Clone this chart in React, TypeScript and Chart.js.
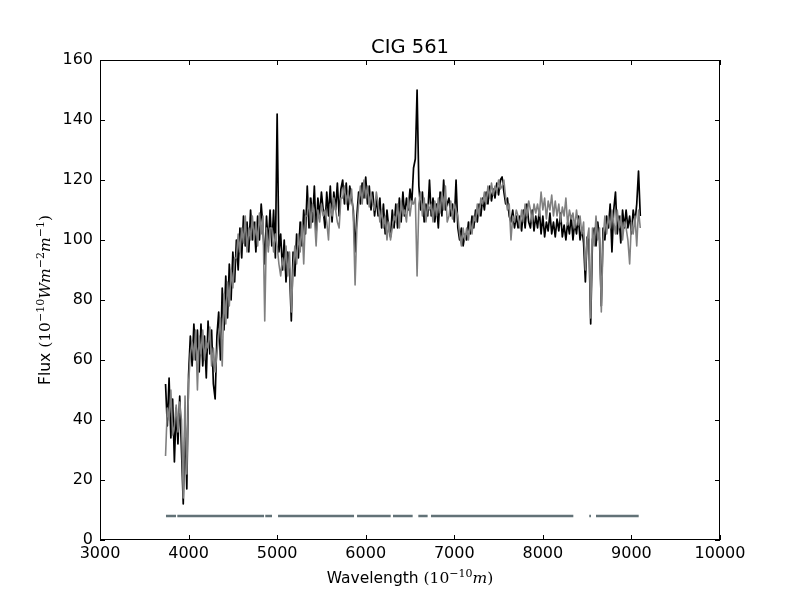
import { useEffect, useRef } from 'react';
import { Chart, registerables } from 'chart.js';
import type { Plugin } from 'chart.js';

Chart.register(...registerables);

// Wavelength samples (Angstrom), ten per row, shared by both spectra
const waves = [
  3740, 3760, 3780, 3800, 3820, 3840, 3860, 3880, 3900, 3920,
  3940, 3960, 3980, 4000, 4020, 4040, 4060, 4080, 4100, 4120,
  4140, 4160, 4180, 4200, 4220, 4240, 4260, 4280, 4300, 4320,
  4340, 4360, 4380, 4400, 4420, 4440, 4460, 4480, 4500, 4520,
  4540, 4560, 4580, 4600, 4620, 4640, 4660, 4680, 4700, 4720,
  4740, 4760, 4780, 4800, 4820, 4840, 4860, 4880, 4900, 4920,
  4940, 4960, 4980, 5000, 5020, 5040, 5060, 5080, 5100, 5120,
  5140, 5160, 5180, 5200, 5220, 5240, 5260, 5280, 5300, 5320,
  5340, 5360, 5380, 5400, 5420, 5440, 5460, 5480, 5500, 5520,
  5540, 5560, 5580, 5600, 5620, 5640, 5660, 5680, 5700, 5720,
  5740, 5760, 5780, 5800, 5820, 5840, 5860, 5880, 5900, 5920,
  5940, 5960, 5980, 6000, 6020, 6040, 6060, 6080, 6100, 6120,
  6140, 6160, 6180, 6200, 6220, 6240, 6260, 6280, 6300, 6320,
  6340, 6360, 6380, 6400, 6420, 6440, 6460, 6480, 6500, 6520,
  6540, 6560, 6580, 6600, 6620, 6640, 6660, 6680, 6700, 6720,
  6740, 6760, 6780, 6800, 6820, 6840, 6860, 6880, 6900, 6920,
  6940, 6960, 6980, 7000, 7020, 7040, 7060, 7080, 7100, 7120,
  7140, 7160, 7180, 7200, 7220, 7240, 7260, 7280, 7300, 7320,
  7340, 7360, 7380, 7400, 7420, 7440, 7460, 7480, 7500, 7520,
  7540, 7560, 7580, 7600, 7620, 7640, 7660, 7680, 7700, 7720,
  7740, 7760, 7780, 7800, 7820, 7840, 7860, 7880, 7900, 7920,
  7940, 7960, 7980, 8000, 8020, 8040, 8060, 8080, 8100, 8120,
  8140, 8160, 8180, 8200, 8220, 8240, 8260, 8280, 8300, 8320,
  8340, 8360, 8380, 8400, 8420, 8440, 8460, 8480, 8500, 8520,
  8540, 8560, 8580, 8600, 8620, 8640, 8660, 8680, 8700, 8720,
  8740, 8760, 8780, 8800, 8820, 8840, 8860, 8880, 8900, 8920,
  8940, 8960, 8980, 9000, 9020, 9040, 9060, 9080, 9100,
];

// Observed flux (black)
const observed = [
  52, 38, 54, 34, 47, 26, 44, 32, 48, 30,
  12, 40, 17, 55, 68, 58, 72, 60, 70, 56,
  72, 58, 68, 54, 73, 62, 70, 52, 47, 68,
  76, 60, 84, 70, 88, 74, 92, 80, 96, 86,
  100, 90, 104, 94, 108, 98, 106, 96, 110, 100,
  106, 96, 108, 100, 112, 104, 92, 108, 98, 110,
  98, 110, 94, 142, 96, 102, 90, 100, 86, 96,
  90, 73, 96, 88, 102, 94, 106, 98, 110, 102,
  118, 104, 114, 106, 118, 102, 114, 108, 116, 110,
  104, 116, 108, 118, 106, 116, 110, 119, 108, 117,
  120, 112, 119, 110, 118, 114, 110, 96, 108, 116,
  112, 119, 114, 121, 112, 118, 110, 116, 108, 114,
  108, 114, 104, 112, 102, 110, 104, 101, 110, 104,
  112, 104, 114, 106, 116, 108, 114, 110, 117, 112,
  124, 127, 150, 118, 110, 116, 106, 112, 108, 120,
  108, 114, 106, 112, 104, 116, 108, 120, 110, 112,
  114, 108, 112, 106, 120, 104, 100, 104, 98, 102,
  100, 106, 102, 108, 104, 110, 106, 112, 108, 114,
  110, 116, 112, 118, 113, 117, 114, 119, 115, 120,
  121, 116, 112, 114, 108, 106, 110, 104, 108, 104,
  108, 103, 110, 104, 112, 106, 104, 110, 103, 108,
  104, 110, 102, 108, 101, 106, 103, 109, 102, 106,
  101, 107, 103, 109, 101, 105, 100, 106, 102, 108,
  100, 106, 102, 108, 100, 104, 99, 86, 101, 100,
  72, 100, 104, 98, 106, 100, 78, 104, 100, 108,
  104, 112, 96, 110, 116, 102, 108, 99, 110, 104,
  110, 104, 108, 102, 110, 106, 112, 123, 108,
];

// Model fit (grey)
const model = [
  28, 44, 40, 50, 35, 38, 45, 36, 46, 40,
  14, 48, 22, 52, 62, 66, 60, 70, 50, 68,
  62, 70, 60, 66, 64, 71, 58, 64, 56, 62,
  68, 74, 58, 82, 72, 86, 78, 90, 84, 94,
  94, 102, 96, 104, 99, 108, 96, 104, 100, 108,
  100, 106, 98, 109, 102, 108, 73, 104, 96, 104,
  104, 96, 102, 98, 92, 88, 94, 90, 98, 88,
  96, 76, 90, 98, 92, 102, 96, 106, 92, 108,
  108, 114, 104, 112, 108, 98, 110, 106, 112, 108,
  110, 106, 100, 112, 108, 114, 110, 106, 104, 114,
  114, 118, 112, 116, 112, 117, 108, 85, 104, 112,
  118, 112, 120, 114, 118, 111, 116, 112, 110, 116,
  112, 106, 110, 104, 108, 100, 106, 100, 104, 108,
  106, 112, 104, 113, 108, 110, 106, 114, 108, 113,
  112, 114, 88, 112, 116, 108, 114, 106, 112, 110,
  112, 106, 113, 108, 114, 109, 116, 110, 118, 106,
  108, 113, 107, 112, 110, 108, 102, 98, 104, 100,
  104, 100, 106, 102, 108, 106, 112, 108, 114, 112,
  116, 112, 118, 114, 119, 115, 118, 116, 120, 117,
  118, 120, 114, 110, 112, 100, 108, 106, 110, 108,
  104, 110, 106, 112, 108, 113, 110, 106, 112, 109,
  112, 108, 116, 110, 114, 107, 113, 110, 115, 108,
  113, 108, 112, 106, 111, 108, 114, 105, 110, 107,
  109, 104, 110, 105, 108, 102, 106, 90, 100, 104,
  74, 104, 98, 108, 100, 104, 76, 100, 108, 102,
  108, 104, 110, 106, 102, 110, 104, 108, 100, 106,
  104, 100, 92, 106, 102, 108, 98, 110, 104,
];

// Fitted (unmasked) wavelength ranges, drawn at a constant flux level
const maskStart = [3745, 3873, 4866, 5010, 5902, 6308, 6594, 6737, 8524, 8600];
const maskEnd   = [3858, 4852, 4942, 5868, 6282, 6530, 6699, 8344, 8543, 9082];
const maskLevel = 8;

const title = 'CIG 561';
const xTicks = [3000, 4000, 5000, 6000, 7000, 8000, 9000, 10000];
const yTicks = [0, 20, 40, 60, 80, 100, 120, 140, 160];

type Part = { t: string; f: string; dy?: number };

function drawParts(ctx: CanvasRenderingContext2D, parts: Part[], cx: number, y: number) {
  let total = 0;
  parts.forEach(p => { ctx.font = p.f; total += ctx.measureText(p.t).width; });
  let x = cx - total / 2;
  ctx.textAlign = 'left';
  ctx.textBaseline = 'alphabetic';
  parts.forEach(p => {
    ctx.font = p.f;
    ctx.fillText(p.t, x, y + (p.dy ?? 0));
    x += ctx.measureText(p.t).width;
  });
}

const SANS = 'DejaVu Sans';
const SERIF = 'DejaVu Serif';

const framePlugin: Plugin = {
  id: 'frame',
  afterDraw(chart) {
    const { ctx, chartArea: a } = chart;
    const xs = chart.scales.x;
    const ys = chart.scales.y;
    ctx.save();
    ctx.strokeStyle = '#000';
    ctx.lineWidth = 1;
    ctx.strokeRect(a.left + 0.5, a.top + 0.5, a.right - a.left - 1, a.bottom - a.top - 1);
    // matplotlib-style inward ticks on all four sides
    ctx.beginPath();
    xTicks.forEach(v => {
      const px = Math.round(xs.getPixelForValue(v)) + 0.5;
      ctx.moveTo(px, a.bottom); ctx.lineTo(px, a.bottom - 5);
      ctx.moveTo(px, a.top);    ctx.lineTo(px, a.top + 5);
    });
    yTicks.forEach(v => {
      const py = Math.round(ys.getPixelForValue(v)) + 0.5;
      ctx.moveTo(a.left, py);  ctx.lineTo(a.left + 5, py);
      ctx.moveTo(a.right, py); ctx.lineTo(a.right - 5, py);
    });
    ctx.stroke();

    ctx.fillStyle = '#000';
    const mid = (a.left + a.right) / 2;
    ctx.font = `19.5px ${SANS}`;
    ctx.textAlign = 'center';
    ctx.fillText(title, mid, a.top - 7);

    drawParts(ctx, [
      { t: 'Wavelength ', f: `15.5px ${SANS}` },
      { t: '(10', f: `15.5px ${SERIF}` },
      { t: '−10', f: `11px ${SERIF}`, dy: -6 },
      { t: 'm', f: `italic 15.5px ${SERIF}` },
      { t: ')', f: `15.5px ${SERIF}` },
    ], mid, 583);

    ctx.translate(50, (a.top + a.bottom) / 2);
    ctx.rotate(-Math.PI / 2);
    drawParts(ctx, [
      { t: 'Flux ', f: `15.5px ${SANS}` },
      { t: '(10', f: `15.5px ${SERIF}` },
      { t: '−10', f: `11px ${SERIF}`, dy: -6 },
      { t: 'Wm', f: `italic 15.5px ${SERIF}` },
      { t: '−2', f: `11px ${SERIF}`, dy: -6 },
      { t: 'm', f: `italic 15.5px ${SERIF}` },
      { t: '−1', f: `11px ${SERIF}`, dy: -6 },
      { t: ')', f: `15.5px ${SERIF}` },
    ], 0, 0);
    ctx.restore();
  },
};

export default function App() {
  const canvasRef = useRef<HTMLCanvasElement>(null);

  useEffect(() => {
    document.body.style.margin = '0';
    if (!canvasRef.current) return;

    const maskData: { x: number; y: number | null }[] = [];
    maskStart.forEach((s, i) => {
      maskData.push({ x: s, y: maskLevel }, { x: maskEnd[i], y: maskLevel }, { x: maskEnd[i], y: null });
    });

    const chart = new Chart(canvasRef.current, {
      type: 'line',
      data: {
        datasets: [
          {
            data: maskData,
            borderColor: '#627277',
            borderWidth: 2.5,
            pointRadius: 0,
            spanGaps: false,
          },
          {
            data: waves.map((w, i) => ({ x: w, y: model[i] })),
            borderColor: '#808080',
            borderWidth: 1.6,
            borderJoinStyle: 'round',
            pointRadius: 0,
            tension: 0,
          },
          {
            data: waves.map((w, i) => ({ x: w, y: observed[i] })),
            borderColor: '#000000',
            borderWidth: 1.7,
            borderJoinStyle: 'round',
            pointRadius: 0,
            tension: 0,
          },
        ],
      },
      options: {
        responsive: true,
        maintainAspectRatio: false,
        animation: false,
        layout: { padding: { top: 60, right: 80, left: 0, bottom: 0 } },
        plugins: {
          legend: { display: false },
          title: { display: false },
          tooltip: { enabled: false },
        },
        scales: {
          x: {
            type: 'linear',
            min: 3000,
            max: 10000,
            afterFit: s => { s.height = 60; },
            afterBuildTicks: s => { s.ticks = xTicks.map(v => ({ value: v })); },
            ticks: {
              color: '#000',
              font: { family: SANS, size: 16 },
              padding: 4,
              maxRotation: 0,
              callback: v => String(v),
            },
            grid: { display: false, drawTicks: false },
            border: { display: false },
          },
          y: {
            min: 0,
            max: 160,
            afterFit: s => { s.width = 100; },
            afterBuildTicks: s => { s.ticks = yTicks.map(v => ({ value: v })); },
            ticks: { color: '#000', font: { family: SANS, size: 16 }, padding: 7 },
            grid: { display: false, drawTicks: false },
            border: { display: false },
          },
        },
      },
      plugins: [framePlugin],
    });

    return () => chart.destroy();
  }, []);

  return (
    <div style={{ width: 800, height: 600, position: 'relative', background: '#fff' }}>
      <canvas ref={canvasRef} />
    </div>
  );
}
